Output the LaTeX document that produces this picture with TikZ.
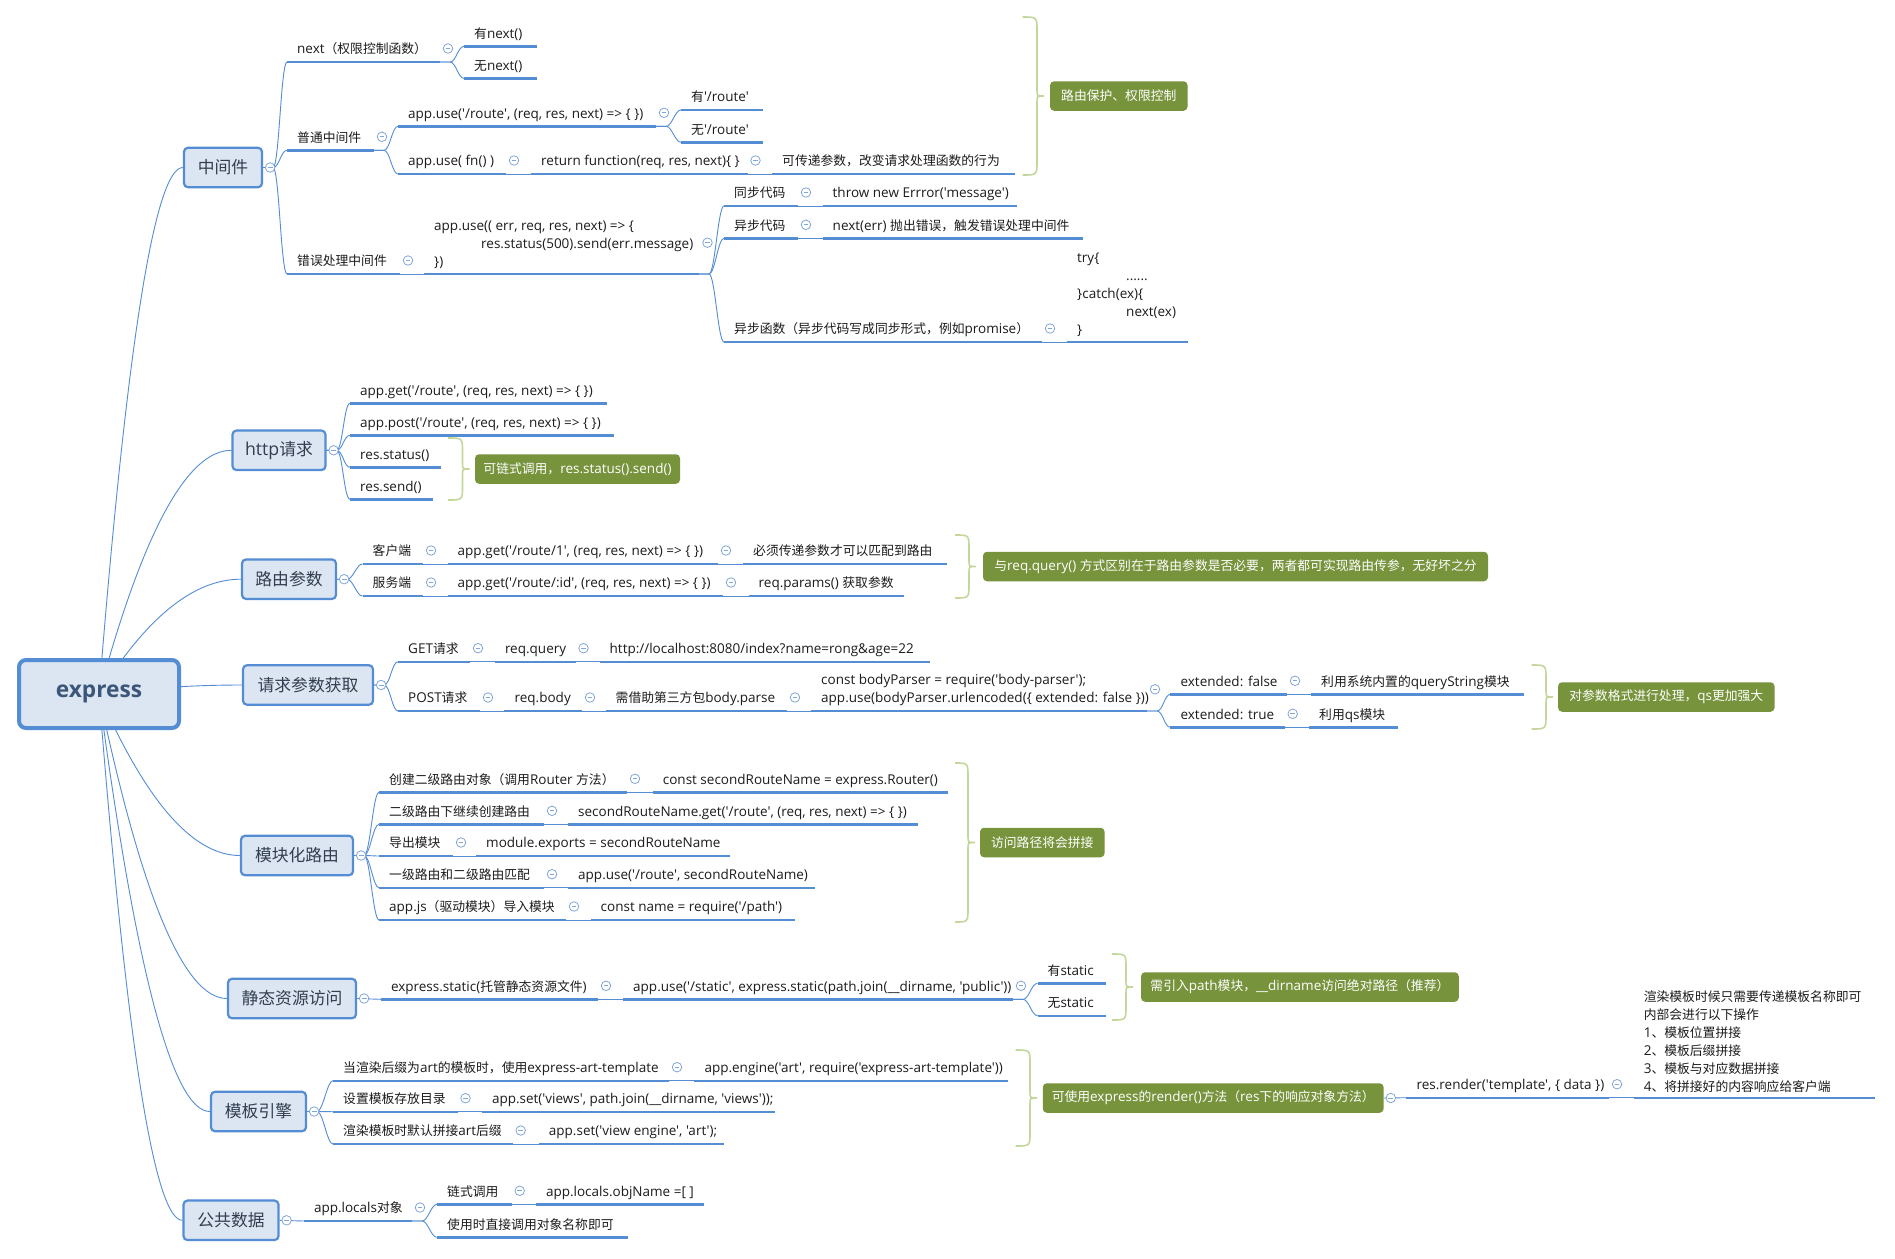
\documentclass[tikz,border=0pt]{standalone}
\usepackage{fontspec}
\setmainfont{Open Sans}[Scale=1.055, Ligatures=TeXOff]
\newfontfamily\latinfont{Open Sans}[Scale=1.055, Ligatures=TeXOff]
\newfontfamily\cjkfont{Noto Sans CJK SC}[Ligatures=TeXOff]
\usepackage{tikz}
\usetikzlibrary{positioning, calc, backgrounds}

% switch to the CJK family for ideographs and full-width punctuation
\XeTeXinterchartokenstate=1
\newXeTeXintercharclass\cjkclass
\newcount\cjkcnt
\cjkcnt="3000 \loop\XeTeXcharclass\cjkcnt=\cjkclass\advance\cjkcnt by 1 \ifnum\cjkcnt<"3040 \repeat
\cjkcnt="4E00 \loop\XeTeXcharclass\cjkcnt=\cjkclass\advance\cjkcnt by 1 \ifnum\cjkcnt<"A000 \repeat
\cjkcnt="FF00 \loop\XeTeXcharclass\cjkcnt=\cjkclass\advance\cjkcnt by 1 \ifnum\cjkcnt<"FFF0 \repeat
\XeTeXinterchartoks 0 \cjkclass={\cjkfont}
\XeTeXinterchartoks 4095 \cjkclass={\cjkfont}
\XeTeXinterchartoks \cjkclass 0={\latinfont}
\XeTeXinterchartoks \cjkclass 4095={\latinfont}

\definecolor{mapblue}{RGB}{84,141,212}
\definecolor{foldblue}{RGB}{128,166,218}
\definecolor{boxfill}{RGB}{220,230,242}
\definecolor{boxtext}{RGB}{50,62,80}
\definecolor{roottext}{RGB}{60,86,122}
\definecolor{topictext}{RGB}{28,28,28}
\definecolor{sumgreen}{RGB}{119,147,60}
\definecolor{bracegreen}{RGB}{196,215,155}

\newcommand\topicfont{\fontsize{12.8}{18}\selectfont}
\newcommand\branchfont{\fontsize{16.8}{20}\selectfont}
\newcommand\rootfont{\fontsize{21.5}{26}\selectfont\bfseries}

\tikzset{
  root/.style={draw=mapblue, line width=4pt, fill=boxfill, rounded corners=7pt,
    minimum width=160pt, minimum height=68pt, font=\rootfont, text=roottext},
  branch/.style={draw=mapblue, line width=2.2pt, fill=boxfill, rounded corners=4pt,
    minimum height=39.5pt, font=\branchfont, text=boxtext},
  topic/.style={anchor=south west, inner xsep=10pt, inner ysep=5pt, text height=10pt,
    text depth=3pt, align=left, font=\topicfont, text=topictext},
  multi/.style={text height={}, text depth={}},
  summary/.style={fill=sumgreen, rounded corners=4pt, text=white, font=\topicfont,
    minimum height=29.5pt, inner xsep=8pt},
  ul/.style={draw=mapblue, line width=2.4pt},
  link/.style={draw=mapblue, line width=0.9pt},
  sumline/.style={draw=bracegreen, line width=1.6pt},
  fold/.style={circle, draw=foldblue, fill=white, line width=0.8pt, minimum size=9.5pt, inner sep=0pt,
    path picture={\draw[foldblue, line width=0.8pt] ([xshift=-2.4pt]path picture bounding box.center)
      -- ([xshift=2.4pt]path picture bounding box.center);}},
  spread/.style={to path={.. controls ($(\tikztostart)+(6,0)$) and ($(\tikztotarget)+(-6,0)$) .. (\tikztotarget)}},
  trunk/.style={to path={let \p1=(\tikztostart), \p2=(\tikztotarget) in
    .. controls ({(2*\x1+\x2)/3},{(\y1+2*\y2)/3}) and ({(\x1+2*\x2)/3},\y2) .. (\tikztotarget)}},
}

% curly summary bracket: left x, spine x, top y, bottom y
\newcommand\sumbrace[4]{%
  \draw[sumline] (#1,#3) .. controls (#2,#3) and (#2,#3) .. (#2,#3+14)
    -- (#2,{(#3+#4)/2-6}) .. controls (#2,{(#3+#4)/2}) and (#2,{(#3+#4)/2}) .. (#2+7,{(#3+#4)/2})
    .. controls (#2,{(#3+#4)/2}) and (#2,{(#3+#4)/2}) .. (#2,{(#3+#4)/2+6})
    -- (#2,#4-14) .. controls (#2,#4) and (#2,#4) .. (#1,#4);}

\begin{document}
\begin{tikzpicture}[x=1pt, y=-1pt]
\useasboundingbox (0,0) rectangle (1895,1258);

% root and main branches
\node[root] (root) at (99,694) {express};
\node[branch, minimum width=78] (m) at (223,167.5) {中间件};
\node[branch, minimum width=93] (h) at (279,450.3) {http请求};
\node[branch, minimum width=94] (r) at (289,579.2) {路由参数};
\node[branch, minimum width=130] (q) at (308,685) {请求参数获取};
\node[branch, minimum width=112] (k) at (297,855.5) {模块化路由};
\node[branch, minimum width=128] (s) at (292,998.5) {静态资源访问};
\node[branch, minimum width=95] (t) at (258.5,1111.5) {模板引擎};
\node[branch, minimum width=95] (p) at (231,1220.3) {公共数据};

% 中间件
\node[topic] (mNext) at (287,62) {next（权限控制函数）};
\node[topic] (mYes) at (464,46.3) {有next()};
\node[topic] (mNo) at (464,78.3) {无next()};
\node[topic] (mNorm) at (287,150.3) {普通中间件};
\node[topic] (mRoute) at (398,126.3) {app.use('/route', (req, res, next) => \{ \})};
\node[topic] (mRYes) at (681,110) {有'/route'};
\node[topic] (mRNo) at (681,142.3) {无'/route'};
\node[topic] (mFn) at (398,174) {app.use( fn() )};
\node[topic] (mRet) at (531,174) {return function(req, res, next)\{ \}};
\node[topic] (mPass) at (772,174) {可传递参数，改变请求处理函数的行为};
\node[topic] (mErr) at (287,274) {错误处理中间件};
\node[topic, multi] (mErrFn) at (424,274) {app.use(( err, req, res, next) => \{\\\hspace*{47pt}res.status(500).send(err.message)\\\})};
\node[topic] (mSync) at (724,206) {同步代码};
\node[topic] (mThrow) at (822.5,206) {throw new Errror('message')};
\node[topic] (mAsync) at (724,238.3) {异步代码};
\node[topic] (mNextErr) at (822.5,238.3) {next(err) 抛出错误，触发错误处理中间件};
\node[topic] (mAsyncFn) at (724,342) {异步函数（异步代码写成同步形式，例如promise）};
\node[topic, multi] (mTry) at (1067,342) {try\{\\\hspace*{49pt}......\\\}catch(ex)\{\\\hspace*{49pt}next(ex)\\\}};
\node[summary, minimum width=137.5] (mSum) at (1118.8,96) {路由保护、权限控制};

% http请求
\node[topic] (hGet) at (350,403.3) {app.get('/route', (req, res, next) => \{ \})};
\node[topic] (hPost) at (350,435.3) {app.post('/route', (req, res, next) => \{ \})};
\node[topic] (hStatus) at (350,467.3) {res.status()};
\node[topic] (hSend) at (350,499.3) {res.send()};
\node[summary, minimum width=205] (hSum) at (577.5,469) {可链式调用，res.status().send()};

% 路由参数
\node[topic] (rClient) at (362.5,564) {客户端};
\node[topic] (rGet1) at (447.5,564) {app.get('/route/1', (req, res, next) => \{ \})};
\node[topic] (rMust) at (743,564) {必须传递参数才可以匹配到路由};
\node[topic] (rServer) at (362.5,596) {服务端};
\node[topic] (rGetId) at (447.5,596) {app.get('/route/:id', (req, res, next) => \{ \})};
\node[topic] (rParams) at (748.5,596) {req.params() 获取参数};
\node[summary, minimum width=505] (rSum) at (1235.5,566.5) {与req.query() 方式区别在于路由参数是否必要，两者都可实现路由传参，无好坏之分};

% 请求参数获取
\node[topic] (qGet) at (398,661.7) {GET请求};
\node[topic] (qQuery) at (494.8,661.7) {req.query};
\node[topic] (qUrl) at (599.5,661.7) {http://localhost:8080/index?name=rong\&age=22};
\node[topic] (qPost) at (398,711) {POST请求};
\node[topic] (qBody) at (504.4,711) {req.body};
\node[topic] (qParse) at (605.5,711) {需借助第三方包body.parse};
\node[topic, multi] (qParser) at (811,711) {const bodyParser = require('body-parser');\\app.use(bodyParser.urlencoded(\{ extended: false \}))};
\node[topic] (qFalse) at (1170.4,694.3) {extended: false};
\node[topic] (qSys) at (1311,694.3) {利用系统内置的queryString模块};
\node[topic] (qTrue) at (1170.4,727.3) {extended: true};
\node[topic] (qQs) at (1309,727.3) {利用qs模块};
\node[summary, minimum width=216.5] (qSum) at (1666.3,697) {对参数格式进行处理，qs更加强大};

% 模块化路由
\node[topic] (kCreate) at (379,792.3) {创建二级路由对象（调用Router 方法）};
\node[topic] (kRouter) at (652.7,792.3) {const secondRouteName = express.Router()};
\node[topic] (kSub) at (379,824.3) {二级路由下继续创建路由};
\node[topic] (kSubGet) at (568,824.3) {secondRouteName.get('/route', (req, res, next) => \{ \})};
\node[topic] (kExport) at (379,856) {导出模块};
\node[topic] (kExports) at (476,856) {module.exports = secondRouteName};
\node[topic] (kMatch) at (379,887.7) {一级路由和二级路由匹配};
\node[topic] (kUse) at (568,887.7) {app.use('/route', secondRouteName)};
\node[topic] (kApp) at (379,920) {app.js（驱动模块）导入模块};
\node[topic] (kReq) at (590.5,920) {const name = require('/path')};
\node[summary, minimum width=124.6] (kSum) at (1042.3,842.5) {访问路径将会拼接};

% 静态资源访问
\node[topic] (sStatic) at (380.8,999.3) {express.static(托管静态资源文件)};
\node[topic] (sUse) at (623,999.3) {app.use('/static', express.static(path.join(\_\_dirname, 'public'))};
\node[topic] (sYes) at (1037.5,983.3) {有static};
\node[topic] (sNo) at (1037.5,1015.7) {无static};
\node[summary, minimum width=317.7] (sSum) at (1299.9,987) {需引入path模块，\_\_dirname访问绝对路径（推荐）};

% 模板引擎
\node[topic] (tArt) at (333,1080.7) {当渲染后缀为art的模板时，使用express-art-template};
\node[topic] (tEngine) at (694.3,1080.7) {app.engine('art', require('express-art-template'))};
\node[topic] (tDir) at (333,1111.7) {设置模板存放目录};
\node[topic] (tViews) at (481.8,1111.7) {app.set('views', path.join(\_\_dirname, 'views'));};
\node[topic] (tSuffix) at (333,1144) {渲染模板时默认拼接art后缀};
\node[topic] (tEngSet) at (538.7,1144) {app.set('view engine', 'art');};
\node[summary, minimum width=340.8] (tSum) at (1213.2,1098) {可使用express的render()方法（res下的响应对象方法）};
\node[topic] (tRender) at (1406.4,1097.7) {res.render('template', \{ data \})};
\node[topic, multi] (tNote) at (1633.6,1097.7) {渲染模板时候只需要传递模板名称即可\\内部会进行以下操作\\1、模板位置拼接\\2、模板后缀拼接\\3、模板与对应数据拼接\\4、将拼接好的内容响应给客户端};

% 公共数据
\node[topic] (pLocals) at (303.8,1221) {app.locals对象};
\node[topic] (pChain) at (437,1204.3) {链式调用};
\node[topic] (pObj) at (535.8,1204.3) {app.locals.objName =[ ]};
\node[topic] (pUse) at (437,1237.3) {使用时直接调用对象名称即可};

% underlines
\foreach \n/\w in {mNext/153, mYes/72.5, mNo/72.5, mNorm/87, mRoute/258, mRYes/81.5, mRNo/81.5,
    mFn/108, mRet/216.5, mPass/243, mErr/113, mErrFn/275, mSync/74, mThrow/194.5, mAsync/74,
    mNextErr/260.5, mAsyncFn/318, mTry/120.5,
    hGet/257, hPost/264, hStatus/90.7, hSend/82.5,
    rClient/60.5, rGet1/270.5, rMust/204.4, rServer/60.5, rGetId/275.5, rParams/155,
    qGet/72, qQuery/80.7, qUrl/330.5, qPost/82, qBody/77.6, qParse/181.5, qParser/336,
    qFalse/116.6, qSys/213, qTrue/114.3, qQs/88.5,
    kCreate/248, kRouter/295, kSub/165, kSubGet/350.4, kExport/74, kExports/254, kMatch/165,
    kUse/247, kApp/187, kReq/204,
    sStatic/217.2, sUse/390, sYes/68.5, sNo/68.5,
    tArt/336, tEngine/313.7, tDir/124.5, tViews/293.2, tSuffix/179.7, tEngSet/185.3,
    tRender/202.6, tNote/241,
    pLocals/108.2, pChain/74.7, pObj/168.4, pUse/191}
  \draw[ul] (\n.south west) -- ++(\w,0) coordinate (\n-e);

% trunk curves behind the root
\begin{scope}[on background layer]
\fill[white] (0,0) rectangle (1895,1258);
\foreach \b in {m,h,r,q,k,s,t,p}
  \draw[link] (root.center) to[trunk] (\b.west);
\end{scope}

% connectors
\foreach \c in {mNext, mNorm, mErr} \draw[link] (m.east) -- ++(10,0) to[spread] (\c.south west);
\foreach \c in {mYes, mNo} \draw[link] (mNext-e) -- ++(10,0) to[spread] (\c.south west);
\foreach \c in {mRoute, mFn} \draw[link] (mNorm-e) -- ++(10,0) to[spread] (\c.south west);
\foreach \c in {mRYes, mRNo} \draw[link] (mRoute-e) -- ++(10,0) to[spread] (\c.south west);
\foreach \c in {mSync, mAsync, mAsyncFn} \draw[link] (mErrFn-e) -- ++(10,0) to[spread] (\c.south west);
\foreach \c in {hGet, hPost, hStatus, hSend} \draw[link] (h.east) -- ++(10,0) to[spread] (\c.south west);
\foreach \c in {rClient, rServer} \draw[link] (r.east) -- ++(10,0) to[spread] (\c.south west);
\foreach \c in {qGet, qPost} \draw[link] (q.east) -- ++(10,0) to[spread] (\c.south west);
\foreach \c in {qFalse, qTrue} \draw[link] (qParser-e) -- ++(10,0) to[spread] (\c.south west);
\foreach \c in {kCreate, kSub, kExport, kMatch, kApp} \draw[link] (k.east) -- ++(10,0) to[spread] (\c.south west);
\foreach \c in {sYes, sNo} \draw[link] (sUse-e) -- ++(10,0) to[spread] (\c.south west);
\foreach \c in {tArt, tDir, tSuffix} \draw[link] (t.east) -- ++(10,0) to[spread] (\c.south west);
\foreach \c in {pChain, pUse} \draw[link] (pLocals-e) -- ++(10,0) to[spread] (\c.south west);
\foreach \a/\b in {mFn/mRet, mRet/mPass, mErr/mErrFn, mSync/mThrow, mAsync/mNextErr, mAsyncFn/mTry,
    rClient/rGet1, rGet1/rMust, rServer/rGetId, rGetId/rParams,
    qGet/qQuery, qQuery/qUrl, qPost/qBody, qBody/qParse, qParse/qParser, qFalse/qSys, qTrue/qQs,
    kCreate/kRouter, kSub/kSubGet, kExport/kExports, kMatch/kUse, kApp/kReq,
    sStatic/sUse, tArt/tEngine, tDir/tViews, tSuffix/tEngSet, tRender/tNote, pChain/pObj}
  \draw[link] (\a-e) -- (\b.south west);
\draw[link] (s.east) -- (sStatic.south west);
\draw[link] (p.east) -- (pLocals.south west);
\draw[link] (tSum.east) -- (tRender.south west);

% summary brackets
\sumbrace{1022.5}{1037}{17}{175}
\sumbrace{448}{462.5}{438}{500}
\sumbrace{955}{969}{535}{598}
\sumbrace{1531.6}{1546}{665}{729}
\sumbrace{955}{968}{763}{922}
\sumbrace{1112}{1126}{954}{1020}
\sumbrace{1015.7}{1030}{1050}{1146}

% fold markers
\foreach \b in {m,h,r,q,k,s,t,p,tSum} \node[fold] (\b-f) at ([xshift=7pt]\b.east) {};
\foreach \n in {mNext, mNorm, mRoute, mFn, mRet, mErr, mSync, mAsync, mAsyncFn,
    rClient, rGet1, rServer, rGetId, qGet, qQuery, qPost, qBody, qParse, qFalse, qTrue,
    kCreate, kSub, kExport, kMatch, kApp, sStatic, sUse, tArt, tDir, tSuffix, tRender,
    pLocals, pChain}
  \node[fold] (\n-f) at ($(\n-e)+(8,-13.5)$) {};
\node[fold] (mErrFn-f) at ($(mErrFn-e)+(8.5,-31.3)$) {};
\node[fold] (qParser-f) at ($(qParser-e)+(8,-21.7)$) {};
\end{tikzpicture}
\end{document}
